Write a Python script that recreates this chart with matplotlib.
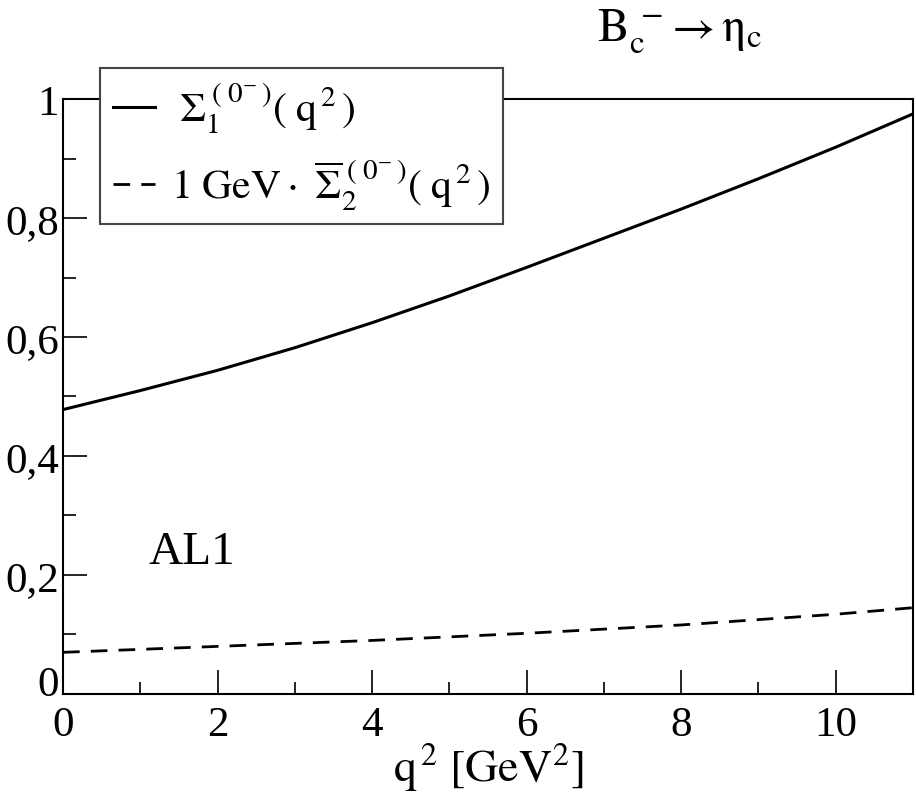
import matplotlib
matplotlib.use("Agg")
import matplotlib.pyplot as plt
import matplotlib.transforms as mtransforms
from matplotlib.ticker import MultipleLocator, FuncFormatter

plt.rcParams['font.family'] = ['Liberation Serif', 'DejaVu Serif']
plt.rcParams['mathtext.fontset'] = 'stix'

# values
q2 = [0, 1, 2, 3, 4, 5, 6, 7, 8, 9, 10, 11]
sigma1 = [0.478, 0.510, 0.544, 0.582, 0.624, 0.669, 0.717, 0.766, 0.815, 0.866, 0.919, 0.975]
sigma2 = [0.070, 0.075, 0.080, 0.085, 0.090, 0.096, 0.102, 0.109, 0.116, 0.125, 0.134, 0.145]

fig = plt.figure(figsize=(9.16, 8.04), dpi=100)
ax = fig.add_axes([0.0688, 0.1356, 0.9279, 0.74])

l1, = ax.plot(q2, sigma1, color='black', lw=2.2)
l2, = ax.plot(q2, sigma2, color='black', lw=2.0, dashes=(6, 4))

ax.set_xlim(0, 11)
ax.set_ylim(0, 1)
ax.xaxis.set_major_locator(MultipleLocator(2))
ax.xaxis.set_minor_locator(MultipleLocator(1))
ax.yaxis.set_major_locator(MultipleLocator(0.2))
ax.yaxis.set_minor_locator(MultipleLocator(0.1))

def yfmt(v, pos):
    if abs(v) < 1e-9:
        return '0'
    if abs(v - 1) < 1e-9:
        return '1'
    return ('%.1f' % v).replace('.', ',')

ax.yaxis.set_major_formatter(FuncFormatter(yfmt))
ax.tick_params(which='both', direction='in', labelsize=31, width=1.2)
ax.tick_params(which='major', length=17, pad=8)
ax.tick_params(which='minor', length=9)
ax.tick_params(axis='y', pad=3)
for s in ax.spines.values():
    s.set_linewidth(1.5)

# the y "0" sits a little above the axis line in the reference
fig.canvas.draw()
ylab0 = ax.get_yticklabels()[0]
for lab in ax.get_yticklabels():
    if lab.get_text() == '0':
        lab.set_transform(lab.get_transform() + mtransforms.ScaledTranslation(0, 10 / 72, fig.dpi_scale_trans))

ax.set_xlabel(r'$\mathrm{q}^{\,2}\ \mathrm{[GeV}^2\mathrm{]}$', fontsize=33, labelpad=-2)

ax.text(1.1, 0.22, 'AL1', fontsize=34)

fig.text(0.652, 0.948, r'$\mathrm{B}_{\mathrm{c}}^{\;-}\!\rightarrow \mathrm{\eta}_{\mathrm{c}}$', fontsize=34)

leg = ax.legend([l1, l2],
                [r'$\;\Sigma_1^{\;(\;0^{-}\,)}(\;\mathrm{q}^{\,2}\,)$',
                 r'$\mathrm{1\ GeV}\cdot\ \overline{\Sigma}_2^{\;(\;0^{-}\,)}(\;\mathrm{q}^{\,2}\,)$'],
                loc='upper left', bbox_to_anchor=(0.044, 1.052),
                fontsize=30, frameon=True, fancybox=False, framealpha=1,
                edgecolor='#444444', handlelength=1.0, handletextpad=0.4,
                borderpad=0.3, labelspacing=0.55, borderaxespad=0)
leg.get_frame().set_linewidth(1.5)

fig.savefig('out.png', dpi=100)
